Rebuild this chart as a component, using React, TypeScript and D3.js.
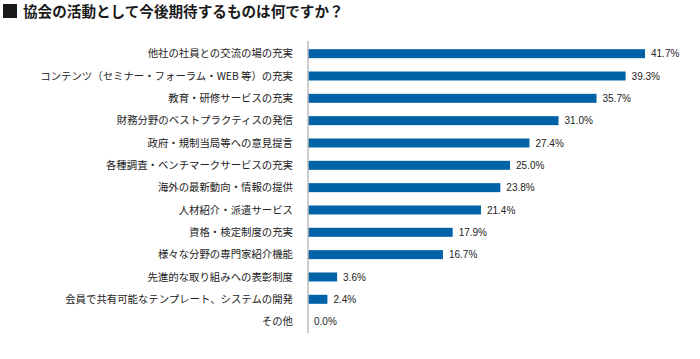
import React from "react";
import * as d3 from "d3";

const title = "協会の活動として今後期待するものは何ですか？";
const categories = [
  "他社の社員との交流の場の充実",
  "コンテンツ（セミナー・フォーラム・WEB 等）の充実",
  "教育・研修サービスの充実",
  "財務分野のベストプラクティスの発信",
  "政府・規制当局等への意見提言",
  "各種調査・ベンチマークサービスの充実",
  "海外の最新動向・情報の提供",
  "人材紹介・派遣サービス",
  "資格・検定制度の充実",
  "様々な分野の専門家紹介機能",
  "先進的な取り組みへの表彰制度",
  "会員で共有可能なテンプレート、システムの開発",
  "その他",
];
const values = [41.7, 39.3, 35.7, 31.0, 27.4, 25.0, 23.8, 21.4, 17.9, 16.7, 3.6, 2.4, 0.0];

export default function App() {
  const W = 700;
  const H = 359;
  const x0 = 308;
  const x = d3.scaleLinear().domain([0, 41.7]).range([x0, 645]);
  const y = d3
    .scaleBand<string>()
    .domain(categories)
    .range([42.5, 332.8])
    .paddingInner(0.6)
    .paddingOuter(0.3);
  const bh = 9;
  return (
    <svg
      width={W}
      height={H}
      style={{ position: "absolute", left: 0, top: 0, background: "#fff" }}
    >
      <rect x={3} y={4} width={14} height={14} fill="#1a1a1a" />
      <text
        x={23}
        y={17}
        fontSize={14.6}
        fontWeight="bold"
        fontFamily="'Noto Sans CJK JP', sans-serif"
        fill="#1a1a1a"
      >
        {title}
      </text>
      {categories.map((c, i) => {
        const step = y.step();
        const cy = 42.5 + step * (i + 0.5);
        return (
          <g key={c}>
            <text
              x={293}
              y={cy}
              dy="0.36em"
              textAnchor="end"
              fontSize={10.4}
              fontFamily="'Noto Sans CJK JP', sans-serif"
              fill="#222"
            >
              {c}
            </text>
            {values[i] > 0 && (
              <rect
                x={x0}
                y={cy - bh / 2}
                width={x(values[i]) - x0}
                height={bh}
                fill="#0062a7"
              />
            )}
            <text
              x={x(values[i]) + 6}
              y={cy}
              dy="0.36em"
              fontSize={10}
              fontFamily="'Liberation Sans', Arial, sans-serif"
              fill="#222"
            >
              {values[i].toFixed(1) + "%"}
            </text>
          </g>
        );
      })}
      <line x1={x0} x2={x0} y1={41} y2={333} stroke="#bdbdbd" strokeWidth={1.5} />
    </svg>
  );
}
